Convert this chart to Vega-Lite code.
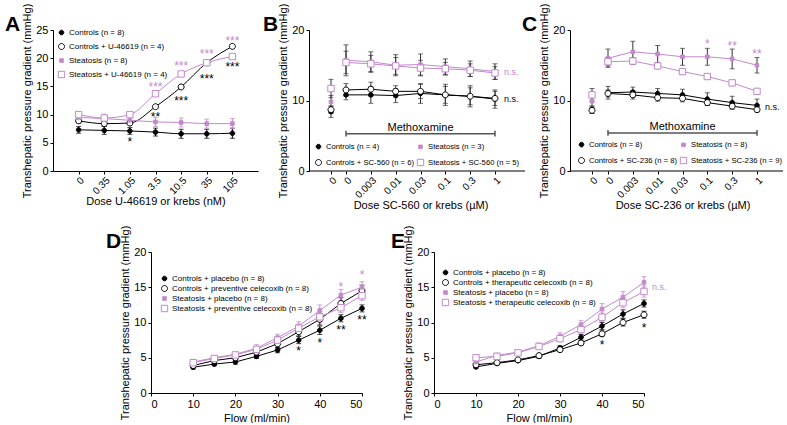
{
"$schema": "https://vega.github.io/schema/vega-lite/v6.json",
"padding": {"left": 5, "top": 3, "right": 0, "bottom": 0},
"config": {
  "font": "Liberation Sans",
  "view": {"stroke": null},
  "axis": {"domainColor": "black", "tickColor": "black", "labelColor": "black", "titleColor": "black", "labelFontSize": 11, "titleFontSize": 11, "titleFontWeight": "normal", "grid": false, "tickSize": 3, "labelPadding": 2, "titlePadding": 3},
  "legend": {"labelFontSize": 8, "labelColor": "black", "symbolStrokeWidth": 1, "labelOffset": 3, "padding": 0, "title": null, "symbolSize": 64, "symbolFillColor": "white"},
  "title": {"fontSize": 21, "fontWeight": "bold", "anchor": "start", "frame": "group", "color": "black", "offset": 0, "baseline": "alphabetic"}
},
"datasets": {
  "A": [
    {"dose":"0","series":"Controls (n = 8)","v":7.3,"e":0.6},
    {"dose":"0.35","series":"Controls (n = 8)","v":7.2,"e":0.7},
    {"dose":"1.05","series":"Controls (n = 8)","v":7.1,"e":0.6},
    {"dose":"3.5","series":"Controls (n = 8)","v":6.9,"e":0.7},
    {"dose":"10.5","series":"Controls (n = 8)","v":6.6,"e":0.8},
    {"dose":"35","series":"Controls (n = 8)","v":6.6,"e":0.8},
    {"dose":"105","series":"Controls (n = 8)","v":6.7,"e":0.9},
    {"dose":"0","series":"Controls + U-46619 (n = 4)","v":8.9,"e":0.4},
    {"dose":"0.35","series":"Controls + U-46619 (n = 4)","v":8.4,"e":0.4},
    {"dose":"1.05","series":"Controls + U-46619 (n = 4)","v":8.5,"e":0.3},
    {"dose":"3.5","series":"Controls + U-46619 (n = 4)","v":11.4,"e":0.3},
    {"dose":"10.5","series":"Controls + U-46619 (n = 4)","v":14.9,"e":0.3},
    {"dose":"35","series":"Controls + U-46619 (n = 4)","v":19.2,"e":0.3},
    {"dose":"105","series":"Controls + U-46619 (n = 4)","v":22.1,"e":0.3},
    {"dose":"0","series":"Steatosis (n = 8)","v":9.5,"e":0.6},
    {"dose":"0.35","series":"Steatosis (n = 8)","v":9.3,"e":0.8},
    {"dose":"1.05","series":"Steatosis (n = 8)","v":9.0,"e":0.8},
    {"dose":"3.5","series":"Steatosis (n = 8)","v":8.7,"e":0.8},
    {"dose":"10.5","series":"Steatosis (n = 8)","v":8.6,"e":0.8},
    {"dose":"35","series":"Steatosis (n = 8)","v":8.4,"e":0.8},
    {"dose":"105","series":"Steatosis (n = 8)","v":8.4,"e":0.9},
    {"dose":"0","series":"Steatosis + U-46619 (n = 4)","v":10.0,"e":0.3},
    {"dose":"0.35","series":"Steatosis + U-46619 (n = 4)","v":9.4,"e":0.3},
    {"dose":"1.05","series":"Steatosis + U-46619 (n = 4)","v":10.0,"e":0.3},
    {"dose":"3.5","series":"Steatosis + U-46619 (n = 4)","v":13.7,"e":0.3},
    {"dose":"10.5","series":"Steatosis + U-46619 (n = 4)","v":17.2,"e":0.3},
    {"dose":"35","series":"Steatosis + U-46619 (n = 4)","v":19.2,"e":0.3},
    {"dose":"105","series":"Steatosis + U-46619 (n = 4)","v":20.3,"e":0.3}
  ],
  "A_stars": [
    {"dose":"1.05","series":"Controls (n = 8)","v":5.6,"t":"*"},
    {"dose":"3.5","series":"Controls (n = 8)","v":10.1,"t":"**"},
    {"dose":"10.5","series":"Controls (n = 8)","v":13.0,"t":"***"},
    {"dose":"35","series":"Controls (n = 8)","v":16.8,"t":"***"},
    {"dose":"105","series":"Controls (n = 8)","v":18.9,"t":"***"},
    {"dose":"3.5","series":"Steatosis + U-46619 (n = 4)","v":15.4,"t":"***"},
    {"dose":"10.5","series":"Steatosis + U-46619 (n = 4)","v":19.2,"t":"***"},
    {"dose":"35","series":"Steatosis + U-46619 (n = 4)","v":21.2,"t":"***"},
    {"dose":"105","series":"Steatosis + U-46619 (n = 4)","v":23.6,"t":"***"}
  ],
  "B_k": [
    {"dose":"0","series":"Controls (n = 4)","v":8.4,"e":0.8},
    {"dose":"0","series":"Controls + SC-560 (n = 6)","v":8.7,"e":0.5},
    {"dose":"0","series":"Steatosis (n = 3)","v":9.8,"e":0.9},
    {"dose":"0","series":"Steatosis + SC-560 (n = 5)","v":11.7,"e":1.3}
  ],
  "B_m": [
    {"dose":"0","series":"Controls (n = 4)","v":10.8,"e":0.7},
    {"dose":"0.003","series":"Controls (n = 4)","v":10.8,"e":1.2},
    {"dose":"0.01","series":"Controls (n = 4)","v":10.7,"e":1.0},
    {"dose":"0.03","series":"Controls (n = 4)","v":11.0,"e":1.4},
    {"dose":"0.1","series":"Controls (n = 4)","v":10.8,"e":1.5},
    {"dose":"0.3","series":"Controls (n = 4)","v":10.6,"e":1.5},
    {"dose":"1","series":"Controls (n = 4)","v":10.2,"e":1.3},
    {"dose":"0","series":"Controls + SC-560 (n = 6)","v":11.5,"e":0.9},
    {"dose":"0.003","series":"Controls + SC-560 (n = 6)","v":11.6,"e":1.0},
    {"dose":"0.01","series":"Controls + SC-560 (n = 6)","v":11.3,"e":0.8},
    {"dose":"0.03","series":"Controls + SC-560 (n = 6)","v":11.3,"e":1.0},
    {"dose":"0.1","series":"Controls + SC-560 (n = 6)","v":10.8,"e":1.2},
    {"dose":"0.3","series":"Controls + SC-560 (n = 6)","v":10.6,"e":1.2},
    {"dose":"1","series":"Controls + SC-560 (n = 6)","v":10.3,"e":1.0},
    {"dose":"0","series":"Steatosis (n = 3)","v":15.7,"e":2.2},
    {"dose":"0.003","series":"Steatosis (n = 3)","v":15.5,"e":1.4},
    {"dose":"0.01","series":"Steatosis (n = 3)","v":15.0,"e":1.5},
    {"dose":"0.03","series":"Steatosis (n = 3)","v":15.1,"e":1.5},
    {"dose":"0.1","series":"Steatosis (n = 3)","v":14.8,"e":1.1},
    {"dose":"0.3","series":"Steatosis (n = 3)","v":14.5,"e":1.1},
    {"dose":"1","series":"Steatosis (n = 3)","v":14.1,"e":1.1},
    {"dose":"0","series":"Steatosis + SC-560 (n = 5)","v":15.4,"e":1.6},
    {"dose":"0.003","series":"Steatosis + SC-560 (n = 5)","v":15.2,"e":1.2},
    {"dose":"0.01","series":"Steatosis + SC-560 (n = 5)","v":14.9,"e":1.2},
    {"dose":"0.03","series":"Steatosis + SC-560 (n = 5)","v":14.6,"e":1.1},
    {"dose":"0.1","series":"Steatosis + SC-560 (n = 5)","v":14.5,"e":0.9},
    {"dose":"0.3","series":"Steatosis + SC-560 (n = 5)","v":14.3,"e":0.9},
    {"dose":"1","series":"Steatosis + SC-560 (n = 5)","v":13.9,"e":0.9}
  ],
  "B_ns": [
    {"dose":"1","series":"Steatosis (n = 3)","v":14.0,"t":"n.s."},
    {"dose":"1","series":"Controls (n = 4)","v":10.2,"t":"n.s."}
  ],
  "C_k": [
    {"dose":"0","series":"Controls (n = 8)","v":8.7,"e":0.5},
    {"dose":"0","series":"Controls + SC-236 (n = 8)","v":8.6,"e":0.4},
    {"dose":"0","series":"Steatosis (n = 8)","v":9.9,"e":0.7},
    {"dose":"0","series":"Steatosis + SC-236 (n = 9)","v":10.8,"e":0.9}
  ],
  "C_m": [
    {"dose":"0","series":"Controls (n = 8)","v":11.1,"e":0.9},
    {"dose":"0.003","series":"Controls (n = 8)","v":11.2,"e":0.7},
    {"dose":"0.01","series":"Controls (n = 8)","v":11.0,"e":0.7},
    {"dose":"0.03","series":"Controls (n = 8)","v":10.8,"e":0.8},
    {"dose":"0.1","series":"Controls (n = 8)","v":10.2,"e":0.9},
    {"dose":"0.3","series":"Controls (n = 8)","v":9.7,"e":0.9},
    {"dose":"1","series":"Controls (n = 8)","v":9.3,"e":0.9},
    {"dose":"0","series":"Controls + SC-236 (n = 8)","v":11.0,"e":0.5},
    {"dose":"0.003","series":"Controls + SC-236 (n = 8)","v":10.8,"e":0.6},
    {"dose":"0.01","series":"Controls + SC-236 (n = 8)","v":10.4,"e":0.5},
    {"dose":"0.03","series":"Controls + SC-236 (n = 8)","v":10.3,"e":0.5},
    {"dose":"0.1","series":"Controls + SC-236 (n = 8)","v":9.7,"e":0.4},
    {"dose":"0.3","series":"Controls + SC-236 (n = 8)","v":9.2,"e":0.4},
    {"dose":"1","series":"Controls + SC-236 (n = 8)","v":8.7,"e":0.3},
    {"dose":"0","series":"Steatosis (n = 8)","v":16.0,"e":1.3},
    {"dose":"0.003","series":"Steatosis (n = 8)","v":16.9,"e":1.5},
    {"dose":"0.01","series":"Steatosis (n = 8)","v":16.6,"e":1.2},
    {"dose":"0.03","series":"Steatosis (n = 8)","v":16.2,"e":1.2},
    {"dose":"0.1","series":"Steatosis (n = 8)","v":16.2,"e":1.2},
    {"dose":"0.3","series":"Steatosis (n = 8)","v":15.9,"e":1.4},
    {"dose":"1","series":"Steatosis (n = 8)","v":15.0,"e":1.1},
    {"dose":"0","series":"Steatosis + SC-236 (n = 9)","v":15.5,"e":0.6},
    {"dose":"0.003","series":"Steatosis + SC-236 (n = 9)","v":15.6,"e":0.5},
    {"dose":"0.01","series":"Steatosis + SC-236 (n = 9)","v":14.9,"e":0.4},
    {"dose":"0.03","series":"Steatosis + SC-236 (n = 9)","v":14.1,"e":0.4},
    {"dose":"0.1","series":"Steatosis + SC-236 (n = 9)","v":13.4,"e":0.4},
    {"dose":"0.3","series":"Steatosis + SC-236 (n = 9)","v":12.5,"e":0.4},
    {"dose":"1","series":"Steatosis + SC-236 (n = 9)","v":11.3,"e":0.4}
  ],
  "C_stars": [
    {"dose":"0.1","series":"Steatosis (n = 8)","v":18.4,"t":"*"},
    {"dose":"0.3","series":"Steatosis (n = 8)","v":18.2,"t":"**"},
    {"dose":"1","series":"Steatosis (n = 8)","v":17.0,"t":"**"}
  ],
  "C_ns": [
    {"dose":"1","series":"Controls (n = 8)","v":9.1,"t":"n.s."}
  ],
  "D": [
    {"flow":10,"series":"Controls + placebo (n = 8)","v":3.65,"e":0.25},
    {"flow":15,"series":"Controls + placebo (n = 8)","v":4.1,"e":0.25},
    {"flow":20,"series":"Controls + placebo (n = 8)","v":4.4,"e":0.3},
    {"flow":25,"series":"Controls + placebo (n = 8)","v":5.2,"e":0.3},
    {"flow":30,"series":"Controls + placebo (n = 8)","v":6.1,"e":0.4},
    {"flow":35,"series":"Controls + placebo (n = 8)","v":7.5,"e":0.5},
    {"flow":40,"series":"Controls + placebo (n = 8)","v":8.9,"e":0.6},
    {"flow":45,"series":"Controls + placebo (n = 8)","v":10.6,"e":0.5},
    {"flow":50,"series":"Controls + placebo (n = 8)","v":12.0,"e":0.5},
    {"flow":10,"series":"Controls + preventive celecoxib (n = 8)","v":3.9,"e":0.3},
    {"flow":15,"series":"Controls + preventive celecoxib (n = 8)","v":4.6,"e":0.3},
    {"flow":20,"series":"Controls + preventive celecoxib (n = 8)","v":5.0,"e":0.3},
    {"flow":25,"series":"Controls + preventive celecoxib (n = 8)","v":5.8,"e":0.4},
    {"flow":30,"series":"Controls + preventive celecoxib (n = 8)","v":7.0,"e":0.5},
    {"flow":35,"series":"Controls + preventive celecoxib (n = 8)","v":8.7,"e":0.6},
    {"flow":40,"series":"Controls + preventive celecoxib (n = 8)","v":10.45,"e":0.8},
    {"flow":45,"series":"Controls + preventive celecoxib (n = 8)","v":12.7,"e":0.8},
    {"flow":50,"series":"Controls + preventive celecoxib (n = 8)","v":14.5,"e":0.8},
    {"flow":10,"series":"Steatosis + placebo (n = 8)","v":4.4,"e":0.3},
    {"flow":15,"series":"Steatosis + placebo (n = 8)","v":5.0,"e":0.3},
    {"flow":20,"series":"Steatosis + placebo (n = 8)","v":5.5,"e":0.3},
    {"flow":25,"series":"Steatosis + placebo (n = 8)","v":6.35,"e":0.5},
    {"flow":30,"series":"Steatosis + placebo (n = 8)","v":7.85,"e":0.5},
    {"flow":35,"series":"Steatosis + placebo (n = 8)","v":9.5,"e":0.6},
    {"flow":40,"series":"Steatosis + placebo (n = 8)","v":11.7,"e":0.8},
    {"flow":45,"series":"Steatosis + placebo (n = 8)","v":13.9,"e":0.8},
    {"flow":50,"series":"Steatosis + placebo (n = 8)","v":15.0,"e":0.8},
    {"flow":10,"series":"Steatosis + preventive celecoxib (n = 8)","v":4.3,"e":0.3},
    {"flow":15,"series":"Steatosis + preventive celecoxib (n = 8)","v":4.9,"e":0.3},
    {"flow":20,"series":"Steatosis + preventive celecoxib (n = 8)","v":5.4,"e":0.3},
    {"flow":25,"series":"Steatosis + preventive celecoxib (n = 8)","v":6.2,"e":0.4},
    {"flow":30,"series":"Steatosis + preventive celecoxib (n = 8)","v":7.5,"e":0.5},
    {"flow":35,"series":"Steatosis + preventive celecoxib (n = 8)","v":9.2,"e":0.5},
    {"flow":40,"series":"Steatosis + preventive celecoxib (n = 8)","v":10.8,"e":0.7},
    {"flow":45,"series":"Steatosis + preventive celecoxib (n = 8)","v":12.1,"e":0.7},
    {"flow":50,"series":"Steatosis + preventive celecoxib (n = 8)","v":13.8,"e":0.7}
  ],
  "D_stars": [
    {"flow":35,"series":"Controls + placebo (n = 8)","v":6.4,"t":"*"},
    {"flow":40,"series":"Controls + placebo (n = 8)","v":7.5,"t":"*"},
    {"flow":45,"series":"Controls + placebo (n = 8)","v":9.3,"t":"**"},
    {"flow":50,"series":"Controls + placebo (n = 8)","v":10.8,"t":"**"},
    {"flow":45,"series":"Steatosis + placebo (n = 8)","v":15.4,"t":"*"},
    {"flow":50,"series":"Steatosis + placebo (n = 8)","v":17.1,"t":"*"}
  ],
  "E": [
    {"flow":10,"series":"Controls + placebo (n = 8)","v":3.7,"e":0.2},
    {"flow":15,"series":"Controls + placebo (n = 8)","v":4.2,"e":0.2},
    {"flow":20,"series":"Controls + placebo (n = 8)","v":4.6,"e":0.2},
    {"flow":25,"series":"Controls + placebo (n = 8)","v":5.2,"e":0.3},
    {"flow":30,"series":"Controls + placebo (n = 8)","v":6.4,"e":0.3},
    {"flow":35,"series":"Controls + placebo (n = 8)","v":7.9,"e":0.4},
    {"flow":40,"series":"Controls + placebo (n = 8)","v":9.5,"e":0.5},
    {"flow":45,"series":"Controls + placebo (n = 8)","v":11.2,"e":0.6},
    {"flow":50,"series":"Controls + placebo (n = 8)","v":12.7,"e":0.5},
    {"flow":10,"series":"Controls + therapeutic celecoxib (n = 8)","v":4.0,"e":0.2},
    {"flow":15,"series":"Controls + therapeutic celecoxib (n = 8)","v":4.3,"e":0.2},
    {"flow":20,"series":"Controls + therapeutic celecoxib (n = 8)","v":4.7,"e":0.2},
    {"flow":25,"series":"Controls + therapeutic celecoxib (n = 8)","v":5.3,"e":0.2},
    {"flow":30,"series":"Controls + therapeutic celecoxib (n = 8)","v":6.15,"e":0.3},
    {"flow":35,"series":"Controls + therapeutic celecoxib (n = 8)","v":7.1,"e":0.3},
    {"flow":40,"series":"Controls + therapeutic celecoxib (n = 8)","v":8.4,"e":0.4},
    {"flow":45,"series":"Controls + therapeutic celecoxib (n = 8)","v":10.0,"e":0.5},
    {"flow":50,"series":"Controls + therapeutic celecoxib (n = 8)","v":11.1,"e":0.5},
    {"flow":10,"series":"Steatosis + placebo (n = 8)","v":4.4,"e":0.3},
    {"flow":15,"series":"Steatosis + placebo (n = 8)","v":5.35,"e":0.3},
    {"flow":20,"series":"Steatosis + placebo (n = 8)","v":5.8,"e":0.3},
    {"flow":25,"series":"Steatosis + placebo (n = 8)","v":6.7,"e":0.4},
    {"flow":30,"series":"Steatosis + placebo (n = 8)","v":8.05,"e":0.5},
    {"flow":35,"series":"Steatosis + placebo (n = 8)","v":9.7,"e":0.6},
    {"flow":40,"series":"Steatosis + placebo (n = 8)","v":11.9,"e":0.8},
    {"flow":45,"series":"Steatosis + placebo (n = 8)","v":13.6,"e":0.8},
    {"flow":50,"series":"Steatosis + placebo (n = 8)","v":15.7,"e":0.8},
    {"flow":10,"series":"Steatosis + therapeutic celecoxib (n = 8)","v":5.0,"e":0.3},
    {"flow":15,"series":"Steatosis + therapeutic celecoxib (n = 8)","v":5.2,"e":0.3},
    {"flow":20,"series":"Steatosis + therapeutic celecoxib (n = 8)","v":5.7,"e":0.3},
    {"flow":25,"series":"Steatosis + therapeutic celecoxib (n = 8)","v":6.6,"e":0.3},
    {"flow":30,"series":"Steatosis + therapeutic celecoxib (n = 8)","v":7.7,"e":0.4},
    {"flow":35,"series":"Steatosis + therapeutic celecoxib (n = 8)","v":9.0,"e":0.5},
    {"flow":40,"series":"Steatosis + therapeutic celecoxib (n = 8)","v":10.75,"e":0.6},
    {"flow":45,"series":"Steatosis + therapeutic celecoxib (n = 8)","v":12.8,"e":0.7},
    {"flow":50,"series":"Steatosis + therapeutic celecoxib (n = 8)","v":14.4,"e":0.8}
  ],
  "E_stars": [
    {"flow":40,"series":"Controls + therapeutic celecoxib (n = 8)","v":7.2,"t":"*"},
    {"flow":50,"series":"Controls + therapeutic celecoxib (n = 8)","v":9.6,"t":"*"}
  ],
  "E_ns": [
    {"flow":50,"series":"Steatosis + placebo (n = 8)","v":15.0,"t":"n.s."}
  ],
  "bracket_span": [{"dose": "0", "dose_end": "1"}],
  "bracket": [{"dose": "0"}, {"dose": "1"}],
  "meth_label": [{"dose": "0.03", "label": "Methoxamine"}],
  "blank": [{"label": ""}]
},
"vconcat": [
{
"hconcat": [
  {
    "width": 205, "height": 141,
    "title": {"text": "A", "dx": -48, "dy": 36},
    "data": {"name": "A"},
    "encoding": {
      "x": {"field": "dose", "type": "nominal", "scale": {"type": "point", "padding": 1.77, "domain": ["0","0.35","1.05","3.5","10.5","35","105"]}, "axis": {"labelAngle": -45, "labelFontSize": 10, "labelPadding": 1, "title": "Dose U-46619 or krebs (nM)", "titlePadding": 0}},
      "y": {"field": "v", "type": "quantitative", "scale": {"domain": [0, 25], "nice": false}, "axis": {"values": [0,5,10,15,20,25]}, "title": "Transhepatic pressure gradient (mmHg)"},
      "color": {"field": "series", "type": "nominal", "scale": {"domain": ["Controls (n = 8)","Controls + U-46619 (n = 4)","Steatosis (n = 8)","Steatosis + U-46619 (n = 4)"], "range": ["black","black","#c389cc","#c389cc"]}, "legend": {"orient": "none", "legendX": 4, "legendY": -2, "rowPadding": 4}}
    },
    "layer": [
      {"transform": [{"filter": {"field": "series", "oneOf": ["Controls (n = 8)","Controls + U-46619 (n = 4)"]}}],
       "mark": {"type": "errorbar", "ticks": {"size": 5}, "thickness": 1}, "encoding": {"yError": {"field": "e"}, "color": {"value": "black"}}},
      {"transform": [{"filter": {"field": "series", "oneOf": ["Steatosis (n = 8)","Steatosis + U-46619 (n = 4)"]}}],
       "mark": {"type": "errorbar", "ticks": {"size": 5}, "thickness": 1}, "encoding": {"yError": {"field": "e"}, "color": {"value": "#c389cc"}}},
      {"mark": {"type": "line", "interpolate": "monotone", "strokeWidth": 1}},
      {"mark": {"type": "point", "filled": false, "opacity": 1, "strokeWidth": 1, "size": 64},
       "encoding": {
         "shape": {"field": "series", "type": "nominal", "scale": {"domain": ["Controls (n = 8)","Controls + U-46619 (n = 4)","Steatosis (n = 8)","Steatosis + U-46619 (n = 4)"], "range": ["M-0.58,0A0.58,0.58,0,1,0,0.58,0A0.58,0.58,0,1,0,-0.58,0Z","M-0.75,0A0.75,0.75,0,1,0,0.75,0A0.75,0.75,0,1,0,-0.75,0Z","M-0.45,-0.45H0.45V0.45H-0.45Z","M-0.8,-0.8H0.8V0.8H-0.8Z"]}},
         "fill": {"field": "series", "type": "nominal", "scale": {"domain": ["Controls (n = 8)","Controls + U-46619 (n = 4)","Steatosis (n = 8)","Steatosis + U-46619 (n = 4)"], "range": ["black","white","#c389cc","white"]}}
       }},
      {"data": {"name": "A_stars"}, "transform": [{"filter": {"field": "series", "equal": "Controls (n = 8)"}}],
       "mark": {"type": "text", "fontSize": 12, "dy": 3}, "encoding": {"text": {"field": "t"}, "color": {"value": "black"}}},
      {"data": {"name": "A_stars"}, "transform": [{"filter": {"field": "series", "equal": "Steatosis + U-46619 (n = 4)"}}],
       "mark": {"type": "text", "fontSize": 12, "dy": 3}, "encoding": {"text": {"field": "t"}, "color": {"value": "#c389cc"}}}
    ]
  },
  {"width": 51, "height": 141, "data": {"name": "blank"}, "mark": {"type": "text", "text": ""}, "encoding": {}},
  {
    "width": 216, "height": 141,
    "title": {"text": "B", "dx": -46, "dy": 36},
    "resolve": {"scale": {"x": "independent"}},
    "layer": [
      {
        "data": {"name": "B_k"},
        "encoding": {
          "x": {"field": "dose", "type": "nominal", "scale": {"type": "point", "domain": ["0"], "range": [0, 44]}, "axis": {"orient": "bottom", "labelAngle": -45, "labelFontSize": 10, "labelPadding": 1, "title": null, "domain": false}},
          "y": {"field": "v", "type": "quantitative", "scale": {"domain": [0, 20], "nice": false}, "axis": {"values": [0,5,10,15,20]}, "title": "Transhepatic pressure gradient (mmHg)"}
        },
        "layer": [
          {"mark": {"type": "errorbar", "color": "#333", "ticks": {"size": 5}, "thickness": 1}, "encoding": {"yError": {"field": "e"}}},
          {"mark": {"type": "point", "filled": false, "opacity": 1, "strokeWidth": 1, "size": 64},
           "encoding": {
             "color": {"field": "series", "type": "nominal", "scale": {"domain": ["Controls (n = 4)","Steatosis (n = 3)","Controls + SC-560 (n = 6)","Steatosis + SC-560 (n = 5)"], "range": ["black","#c389cc","black","#c389cc"]}, "legend": {"orient": "none", "direction": "horizontal", "legendX": 5, "legendY": 112, "columns": 2, "rowPadding": 6, "columnPadding": 0, "labelFontSize": 7.7}},
             "shape": {"field": "series", "type": "nominal", "scale": {"domain": ["Controls (n = 4)","Steatosis (n = 3)","Controls + SC-560 (n = 6)","Steatosis + SC-560 (n = 5)"], "range": ["M-0.58,0A0.58,0.58,0,1,0,0.58,0A0.58,0.58,0,1,0,-0.58,0Z","M-0.45,-0.45H0.45V0.45H-0.45Z","M-0.75,0A0.75,0.75,0,1,0,0.75,0A0.75,0.75,0,1,0,-0.75,0Z","M-0.8,-0.8H0.8V0.8H-0.8Z"]}},
             "fill": {"field": "series", "type": "nominal", "scale": {"domain": ["Controls (n = 4)","Steatosis (n = 3)","Controls + SC-560 (n = 6)","Steatosis + SC-560 (n = 5)"], "range": ["black","#c389cc","white","white"]}}
           }}
        ]
      },
      {
        "data": {"name": "B_m"},
        "encoding": {
          "x": {"field": "dose", "type": "nominal", "scale": {"type": "point", "padding": 0, "domain": ["0","0.003","0.01","0.03","0.1","0.3","1"], "range": [37, 186]}, "axis": {"orient": "bottom", "labelAngle": -45, "labelFontSize": 10, "labelPadding": 1, "title": "Dose SC-560 or krebs (µM)", "titlePadding": 0, "domain": false}},
          "y": {"field": "v", "type": "quantitative", "scale": {"domain": [0, 20], "nice": false}, "title": "Transhepatic pressure gradient (mmHg)"}
        },
        "layer": [
          {"mark": {"type": "errorbar", "color": "#333", "ticks": {"size": 5}, "thickness": 1}, "encoding": {"yError": {"field": "e"}}},
          {"mark": {"type": "line", "strokeWidth": 1},
           "encoding": {"color": {"field": "series", "type": "nominal", "scale": {"domain": ["Controls (n = 4)","Steatosis (n = 3)","Controls + SC-560 (n = 6)","Steatosis + SC-560 (n = 5)"], "range": ["black","#c389cc","black","#c389cc"]}}}},
          {"mark": {"type": "point", "filled": false, "opacity": 1, "strokeWidth": 1, "size": 64},
           "encoding": {
             "color": {"field": "series", "type": "nominal", "scale": {"domain": ["Controls (n = 4)","Steatosis (n = 3)","Controls + SC-560 (n = 6)","Steatosis + SC-560 (n = 5)"], "range": ["black","#c389cc","black","#c389cc"]}},
             "shape": {"field": "series", "type": "nominal", "scale": {"domain": ["Controls (n = 4)","Steatosis (n = 3)","Controls + SC-560 (n = 6)","Steatosis + SC-560 (n = 5)"], "range": ["M-0.58,0A0.58,0.58,0,1,0,0.58,0A0.58,0.58,0,1,0,-0.58,0Z","M-0.45,-0.45H0.45V0.45H-0.45Z","M-0.75,0A0.75,0.75,0,1,0,0.75,0A0.75,0.75,0,1,0,-0.75,0Z","M-0.8,-0.8H0.8V0.8H-0.8Z"]}},
             "fill": {"field": "series", "type": "nominal", "scale": {"domain": ["Controls (n = 4)","Steatosis (n = 3)","Controls + SC-560 (n = 6)","Steatosis + SC-560 (n = 5)"], "range": ["black","#c389cc","white","white"]}}
           }},
          {"data": {"name": "B_ns"}, "transform": [{"filter": {"field": "series", "equal": "Steatosis (n = 3)"}}],
           "mark": {"type": "text", "fontSize": 9, "align": "left", "dx": 9, "color": "#c389cc"}, "encoding": {"text": {"field": "t"}}},
          {"data": {"name": "B_ns"}, "transform": [{"filter": {"field": "series", "equal": "Controls (n = 4)"}}],
           "mark": {"type": "text", "fontSize": 9, "align": "left", "dx": 9, "color": "black"}, "encoding": {"text": {"field": "t"}}}
        ]
      },
      {"data": {"name": "blank"}, "mark": {"type": "rule", "color": "black", "strokeWidth": 1}, "encoding": {"y": {"datum": 0}}},
      {"data": {"name": "bracket_span"}, "mark": {"type": "rule", "color": "#555", "strokeWidth": 1.5},
       "encoding": {"x": {"field": "dose", "type": "nominal", "scale": {"type": "point", "padding": 0, "domain": ["0","0.003","0.01","0.03","0.1","0.3","1"], "range": [37, 186]}, "axis": null}, "x2": {"field": "dose_end"}, "y": {"datum": 5.3}}},
      {"data": {"name": "bracket"}, "mark": {"type": "rule", "color": "#555", "strokeWidth": 1.5},
       "encoding": {"x": {"field": "dose", "type": "nominal", "scale": {"type": "point", "padding": 0, "domain": ["0","0.003","0.01","0.03","0.1","0.3","1"], "range": [37, 186]}, "axis": null}, "y": {"datum": 4.9}, "y2": {"datum": 5.7}}},
      {"data": {"name": "meth_label"}, "mark": {"type": "text", "fontSize": 11, "baseline": "alphabetic", "dy": -3},
       "encoding": {"x": {"field": "dose", "type": "nominal", "scale": {"type": "point", "padding": 0, "domain": ["0","0.003","0.01","0.03","0.1","0.3","1"], "range": [37, 186]}, "axis": null}, "y": {"datum": 5.3}, "text": {"field": "label"}}}
    ]
  },
  {"width": 45, "height": 141, "data": {"name": "blank"}, "mark": {"type": "text", "text": ""}, "encoding": {}},
  {
    "width": 213, "height": 141,
    "title": {"text": "C", "dx": -48, "dy": 36},
    "resolve": {"scale": {"x": "independent"}},
    "layer": [
      {
        "data": {"name": "C_k"},
        "encoding": {
          "x": {"field": "dose", "type": "nominal", "scale": {"type": "point", "domain": ["0"], "range": [0, 44]}, "axis": {"orient": "bottom", "labelAngle": -45, "labelFontSize": 10, "labelPadding": 1, "title": null, "domain": false}},
          "y": {"field": "v", "type": "quantitative", "scale": {"domain": [0, 20], "nice": false}, "axis": {"values": [0,5,10,15,20]}, "title": "Transhepatic pressure gradient (mmHg)"}
        },
        "layer": [
          {"mark": {"type": "errorbar", "color": "#333", "ticks": {"size": 5}, "thickness": 1}, "encoding": {"yError": {"field": "e"}}},
          {"mark": {"type": "point", "filled": false, "opacity": 1, "strokeWidth": 1, "size": 64},
           "encoding": {
             "color": {"field": "series", "type": "nominal", "scale": {"domain": ["Controls (n = 8)","Steatosis (n = 8)","Controls + SC-236 (n = 8)","Steatosis + SC-236 (n = 9)"], "range": ["black","#c389cc","black","#c389cc"]}, "legend": {"orient": "none", "direction": "horizontal", "legendX": 7, "legendY": 110, "columns": 2, "rowPadding": 6, "columnPadding": 0, "labelFontSize": 7.7}},
             "shape": {"field": "series", "type": "nominal", "scale": {"domain": ["Controls (n = 8)","Steatosis (n = 8)","Controls + SC-236 (n = 8)","Steatosis + SC-236 (n = 9)"], "range": ["M-0.58,0A0.58,0.58,0,1,0,0.58,0A0.58,0.58,0,1,0,-0.58,0Z","M-0.45,-0.45H0.45V0.45H-0.45Z","M-0.75,0A0.75,0.75,0,1,0,0.75,0A0.75,0.75,0,1,0,-0.75,0Z","M-0.8,-0.8H0.8V0.8H-0.8Z"]}},
             "fill": {"field": "series", "type": "nominal", "scale": {"domain": ["Controls (n = 8)","Steatosis (n = 8)","Controls + SC-236 (n = 8)","Steatosis + SC-236 (n = 9)"], "range": ["black","#c389cc","white","white"]}}
           }}
        ]
      },
      {
        "data": {"name": "C_m"},
        "encoding": {
          "x": {"field": "dose", "type": "nominal", "scale": {"type": "point", "padding": 0, "domain": ["0","0.003","0.01","0.03","0.1","0.3","1"], "range": [38, 187]}, "axis": {"orient": "bottom", "labelAngle": -45, "labelFontSize": 10, "labelPadding": 1, "title": "Dose SC-236 or krebs (µM)", "titlePadding": 0, "domain": false}},
          "y": {"field": "v", "type": "quantitative", "scale": {"domain": [0, 20], "nice": false}, "title": "Transhepatic pressure gradient (mmHg)"}
        },
        "layer": [
          {"mark": {"type": "errorbar", "color": "#333", "ticks": {"size": 5}, "thickness": 1}, "encoding": {"yError": {"field": "e"}}},
          {"mark": {"type": "line", "strokeWidth": 1},
           "encoding": {"color": {"field": "series", "type": "nominal", "scale": {"domain": ["Controls (n = 8)","Steatosis (n = 8)","Controls + SC-236 (n = 8)","Steatosis + SC-236 (n = 9)"], "range": ["black","#c389cc","black","#c389cc"]}}}},
          {"mark": {"type": "point", "filled": false, "opacity": 1, "strokeWidth": 1, "size": 64},
           "encoding": {
             "color": {"field": "series", "type": "nominal", "scale": {"domain": ["Controls (n = 8)","Steatosis (n = 8)","Controls + SC-236 (n = 8)","Steatosis + SC-236 (n = 9)"], "range": ["black","#c389cc","black","#c389cc"]}},
             "shape": {"field": "series", "type": "nominal", "scale": {"domain": ["Controls (n = 8)","Steatosis (n = 8)","Controls + SC-236 (n = 8)","Steatosis + SC-236 (n = 9)"], "range": ["M-0.58,0A0.58,0.58,0,1,0,0.58,0A0.58,0.58,0,1,0,-0.58,0Z","M-0.45,-0.45H0.45V0.45H-0.45Z","M-0.75,0A0.75,0.75,0,1,0,0.75,0A0.75,0.75,0,1,0,-0.75,0Z","M-0.8,-0.8H0.8V0.8H-0.8Z"]}},
             "fill": {"field": "series", "type": "nominal", "scale": {"domain": ["Controls (n = 8)","Steatosis (n = 8)","Controls + SC-236 (n = 8)","Steatosis + SC-236 (n = 9)"], "range": ["black","#c389cc","white","white"]}}
           }},
          {"data": {"name": "C_stars"}, "mark": {"type": "text", "fontSize": 12, "dy": 3, "color": "#c389cc"}, "encoding": {"text": {"field": "t"}}},
          {"data": {"name": "C_ns"}, "mark": {"type": "text", "fontSize": 9, "align": "left", "dx": 8, "color": "black"}, "encoding": {"text": {"field": "t"}}}
        ]
      },
      {"data": {"name": "blank"}, "mark": {"type": "rule", "color": "black", "strokeWidth": 1}, "encoding": {"y": {"datum": 0}}},
      {"data": {"name": "bracket_span"}, "mark": {"type": "rule", "color": "#555", "strokeWidth": 1.5},
       "encoding": {"x": {"field": "dose", "type": "nominal", "scale": {"type": "point", "padding": 0, "domain": ["0","0.003","0.01","0.03","0.1","0.3","1"], "range": [38, 187]}, "axis": null}, "x2": {"field": "dose_end"}, "y": {"datum": 5.4}}},
      {"data": {"name": "bracket"}, "mark": {"type": "rule", "color": "#555", "strokeWidth": 1.5},
       "encoding": {"x": {"field": "dose", "type": "nominal", "scale": {"type": "point", "padding": 0, "domain": ["0","0.003","0.01","0.03","0.1","0.3","1"], "range": [38, 187]}, "axis": null}, "y": {"datum": 5.0}, "y2": {"datum": 5.8}}},
      {"data": {"name": "meth_label"}, "mark": {"type": "text", "fontSize": 11, "baseline": "alphabetic", "dy": -3},
       "encoding": {"x": {"field": "dose", "type": "nominal", "scale": {"type": "point", "padding": 0, "domain": ["0","0.003","0.01","0.03","0.1","0.3","1"], "range": [38, 187]}, "axis": null}, "y": {"datum": 5.4}, "text": {"field": "label"}}}
    ]
  }
],
"spacing": 0,
"bounds": "flush",
"resolve": {"scale": {"color": "independent", "shape": "independent", "fill": "independent"}}
},
{
"hconcat": [
  {"width": 98, "height": 141, "data": {"name": "blank"}, "mark": {"type": "rule", "opacity": 0}, "encoding": {"y": {"datum": 0, "type": "quantitative", "axis": null}}},
  {
    "width": 211, "height": 141,
    "title": {"text": "D", "dx": -45, "dy": 31},
    "data": {"name": "D"},
    "encoding": {
      "x": {"field": "flow", "type": "quantitative", "scale": {"domain": [0, 50], "nice": false}, "axis": {"values": [0,10,20,30,40,50]}, "title": "Flow (ml/min)"},
      "y": {"field": "v", "type": "quantitative", "scale": {"domain": [0, 20], "nice": false}, "axis": {"values": [0,5,10,15,20]}, "title": "Transhepatic pressure gradient (mmHg)"},
      "color": {"field": "series", "type": "nominal", "scale": {"domain": ["Controls + placebo (n = 8)","Controls + preventive celecoxib (n = 8)","Steatosis + placebo (n = 8)","Steatosis + preventive celecoxib (n = 8)"], "range": ["black","black","#c389cc","#c389cc"]}, "legend": {"orient": "none", "legendX": 9, "legendY": 22, "rowPadding": 0}}
    },
    "layer": [
      {"transform": [{"filter": {"field": "series", "oneOf": ["Controls + placebo (n = 8)","Controls + preventive celecoxib (n = 8)"]}}],
       "mark": {"type": "errorbar", "ticks": {"size": 5}, "thickness": 1}, "encoding": {"yError": {"field": "e"}, "color": {"value": "black"}}},
      {"transform": [{"filter": {"field": "series", "oneOf": ["Steatosis + placebo (n = 8)","Steatosis + preventive celecoxib (n = 8)"]}}],
       "mark": {"type": "errorbar", "ticks": {"size": 5}, "thickness": 1}, "encoding": {"yError": {"field": "e"}, "color": {"value": "#c389cc"}}},
      {"mark": {"type": "line", "strokeWidth": 1}},
      {"mark": {"type": "point", "filled": false, "opacity": 1, "strokeWidth": 1, "size": 64},
       "encoding": {
         "shape": {"field": "series", "type": "nominal", "scale": {"domain": ["Controls + placebo (n = 8)","Controls + preventive celecoxib (n = 8)","Steatosis + placebo (n = 8)","Steatosis + preventive celecoxib (n = 8)"], "range": ["M-0.58,0A0.58,0.58,0,1,0,0.58,0A0.58,0.58,0,1,0,-0.58,0Z","M-0.75,0A0.75,0.75,0,1,0,0.75,0A0.75,0.75,0,1,0,-0.75,0Z","M-0.45,-0.45H0.45V0.45H-0.45Z","M-0.8,-0.8H0.8V0.8H-0.8Z"]}},
         "fill": {"field": "series", "type": "nominal", "scale": {"domain": ["Controls + placebo (n = 8)","Controls + preventive celecoxib (n = 8)","Steatosis + placebo (n = 8)","Steatosis + preventive celecoxib (n = 8)"], "range": ["black","white","#c389cc","white"]}}
       }},
      {"data": {"name": "D_stars"}, "transform": [{"filter": {"field": "series", "equal": "Controls + placebo (n = 8)"}}],
       "mark": {"type": "text", "fontSize": 12, "dy": 3}, "encoding": {"text": {"field": "t"}, "color": {"value": "black"}}},
      {"data": {"name": "D_stars"}, "transform": [{"filter": {"field": "series", "equal": "Steatosis + placebo (n = 8)"}}],
       "mark": {"type": "text", "fontSize": 12, "dy": 3}, "encoding": {"text": {"field": "t"}, "color": {"value": "#c389cc"}}}
    ]
  },
  {"width": 72, "height": 141, "data": {"name": "blank"}, "mark": {"type": "text", "text": ""}, "encoding": {}},
  {
    "width": 210, "height": 141,
    "title": {"text": "E", "dx": -43, "dy": 31},
    "data": {"name": "E"},
    "encoding": {
      "x": {"field": "flow", "type": "quantitative", "scale": {"domain": [0, 50], "nice": false}, "axis": {"values": [0,10,20,30,40,50]}, "title": "Flow (ml/min)"},
      "y": {"field": "v", "type": "quantitative", "scale": {"domain": [0, 20], "nice": false}, "axis": {"values": [0,5,10,15,20]}, "title": "Transhepatic pressure gradient (mmHg)"},
      "color": {"field": "series", "type": "nominal", "scale": {"domain": ["Controls + placebo (n = 8)","Controls + therapeutic celecoxib (n = 8)","Steatosis + placebo (n = 8)","Steatosis + therapeutic celecoxib (n = 8)"], "range": ["black","black","#c389cc","#c389cc"]}, "legend": {"orient": "none", "legendX": 7, "legendY": 16, "rowPadding": 0}}
    },
    "layer": [
      {"transform": [{"filter": {"field": "series", "oneOf": ["Controls + placebo (n = 8)","Controls + therapeutic celecoxib (n = 8)"]}}],
       "mark": {"type": "errorbar", "ticks": {"size": 5}, "thickness": 1}, "encoding": {"yError": {"field": "e"}, "color": {"value": "black"}}},
      {"transform": [{"filter": {"field": "series", "oneOf": ["Steatosis + placebo (n = 8)","Steatosis + therapeutic celecoxib (n = 8)"]}}],
       "mark": {"type": "errorbar", "ticks": {"size": 5}, "thickness": 1}, "encoding": {"yError": {"field": "e"}, "color": {"value": "#c389cc"}}},
      {"mark": {"type": "line", "strokeWidth": 1}},
      {"mark": {"type": "point", "filled": false, "opacity": 1, "strokeWidth": 1, "size": 64},
       "encoding": {
         "shape": {"field": "series", "type": "nominal", "scale": {"domain": ["Controls + placebo (n = 8)","Controls + therapeutic celecoxib (n = 8)","Steatosis + placebo (n = 8)","Steatosis + therapeutic celecoxib (n = 8)"], "range": ["M-0.58,0A0.58,0.58,0,1,0,0.58,0A0.58,0.58,0,1,0,-0.58,0Z","M-0.75,0A0.75,0.75,0,1,0,0.75,0A0.75,0.75,0,1,0,-0.75,0Z","M-0.45,-0.45H0.45V0.45H-0.45Z","M-0.8,-0.8H0.8V0.8H-0.8Z"]}},
         "fill": {"field": "series", "type": "nominal", "scale": {"domain": ["Controls + placebo (n = 8)","Controls + therapeutic celecoxib (n = 8)","Steatosis + placebo (n = 8)","Steatosis + therapeutic celecoxib (n = 8)"], "range": ["black","white","#c389cc","white"]}}
       }},
      {"data": {"name": "E_stars"}, "mark": {"type": "text", "fontSize": 12, "dy": 3}, "encoding": {"text": {"field": "t"}, "color": {"value": "black"}}},
      {"data": {"name": "E_ns"}, "mark": {"type": "text", "fontSize": 9, "align": "left", "dx": 8}, "encoding": {"text": {"field": "t"}, "color": {"value": "#c389cc"}}}
    ]
  }
],
"spacing": 0,
"bounds": "flush",
"resolve": {"scale": {"color": "independent", "shape": "independent", "fill": "independent"}}
}
],
"spacing": 14,
"resolve": {"scale": {"color": "independent", "shape": "independent", "fill": "independent"}}
}
